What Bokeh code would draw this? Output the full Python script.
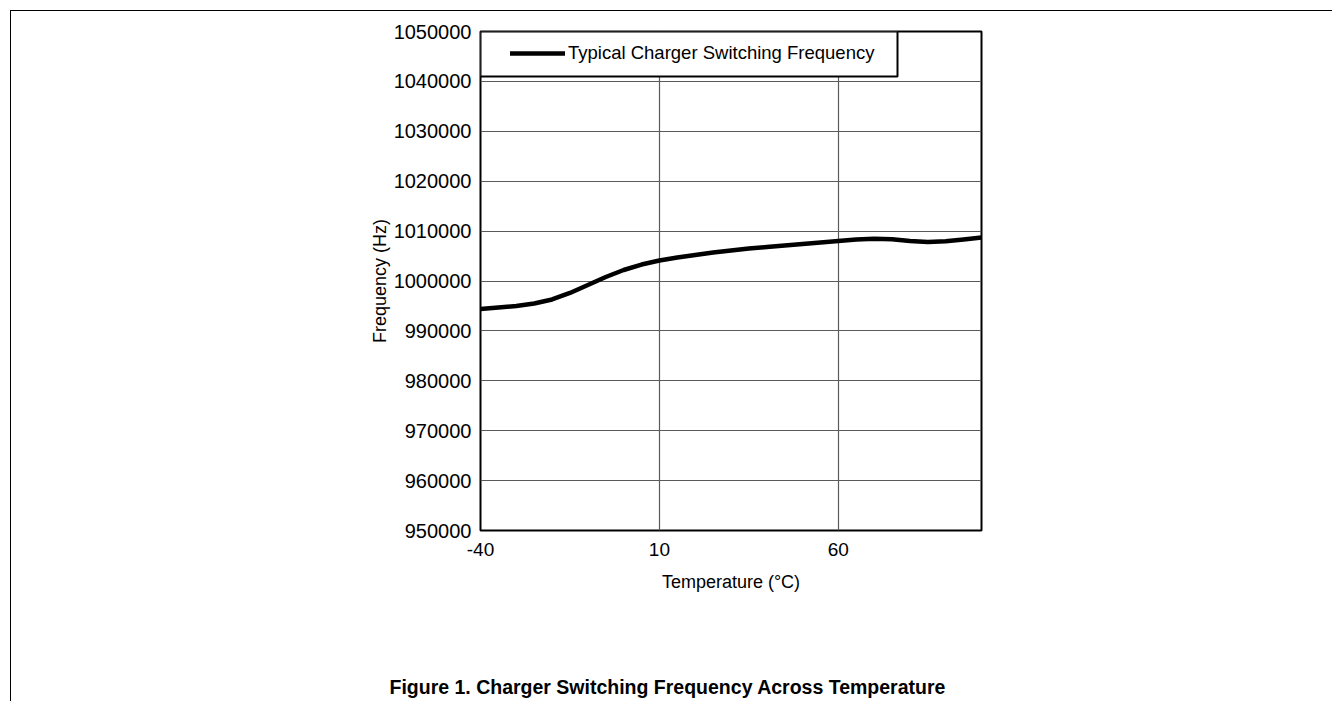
from bokeh.plotting import figure
from bokeh.layouts import column
from bokeh.models import (FixedTicker, PrintfTickFormatter, Legend, LegendItem,
                          BoxAnnotation, Label, Range1d)
from bokeh.embed import file_html
from bokeh.resources import INLINE

# ---- data ----
temperature_c = [-40, -35, -30, -25, -20, -15, -10, -5, 0, 5, 10, 15, 20, 25, 30,
                 35, 40, 45, 50, 55, 60, 65, 70, 75, 80, 85, 90, 95, 100]
frequency_hz = [994400, 994700, 995000, 995500, 996300, 997600, 999200, 1000800,
                1002200, 1003300, 1004100, 1004700, 1005200, 1005700, 1006100,
                1006500, 1006800, 1007100, 1007400, 1007700, 1008000, 1008300,
                1008450, 1008350, 1008000, 1007800, 1007950, 1008300, 1008700]
x_ticks = [-40, 10, 60]
y_ticks = list(range(950000, 1050001, 10000))
series_name = "Typical Charger Switching Frequency"
x_title = "Temperature (°C)"
y_title = "Frequency (Hz)"
caption = "Figure 1.  Charger Switching Frequency Across Temperature"

X0, X1 = -40, 100
Y0, Y1 = 950000, 1050000

# ---- layout constants (page pixels) ----
CANVAS_LEFT, CANVAS_TOP = 11, 11
W, H = 1321, 620
CAP_H = 70
FRAME_L, FRAME_T, FRAME_R, FRAME_B = 480, 31, 981, 530
FONT = "Liberation Sans"


def px_to_x(px):
    return X0 + (px - FRAME_L) * (X1 - X0) / (FRAME_R - FRAME_L)


def px_to_y(py):
    return Y0 + (FRAME_B - py) * (Y1 - Y0) / (FRAME_B - FRAME_T)


p = figure(width=W, height=H, output_backend="svg", toolbar_location=None,
           x_range=Range1d(X0, X1), y_range=Range1d(Y0, Y1),
           min_border_left=FRAME_L - CANVAS_LEFT,
           min_border_top=FRAME_T - CANVAS_TOP,
           min_border_right=CANVAS_LEFT + W - FRAME_R,
           min_border_bottom=CANVAS_TOP + H - FRAME_B)
p.frame_align = False

p.background_fill_color = "white"
p.border_fill_color = "white"
p.outline_line_color = "black"
p.outline_line_width = 2

for ax in (p.xaxis[0], p.yaxis[0]):
    ax.axis_line_color = None
    ax.major_tick_line_color = None
    ax.minor_tick_line_color = None
    ax.major_tick_out = 0
    ax.major_tick_in = 0
    ax.major_label_text_font = FONT
    ax.major_label_text_color = "black"
    ax.axis_label_text_font = FONT
    ax.axis_label_text_font_size = "18px"
    ax.axis_label_text_font_style = "normal"
    ax.axis_label_text_color = "black"

p.xaxis.major_label_text_font_size = "19px"
p.yaxis.major_label_text_font_size = "20px"
p.xaxis.ticker = FixedTicker(ticks=x_ticks)
p.yaxis.ticker = FixedTicker(ticks=y_ticks)
p.xaxis.formatter = PrintfTickFormatter(format="%d")
p.yaxis.formatter = PrintfTickFormatter(format="%d")
p.xaxis.axis_label = x_title
p.yaxis.axis_label = y_title
p.xaxis.major_label_standoff = 12
p.yaxis.major_label_standoff = 9
p.xaxis.axis_label_standoff = 13
p.yaxis.axis_label_standoff = 1

p.xgrid.ticker = FixedTicker(ticks=x_ticks)
p.ygrid.ticker = FixedTicker(ticks=y_ticks)
for g in (p.xgrid[0], p.ygrid[0]):
    g.grid_line_color = "#5a5a5a"
    g.grid_line_width = 1.2

r = p.line(temperature_c, frequency_hz, line_color="black", line_width=4.5,
           line_join="round", line_cap="round")

# legend frame
box = BoxAnnotation(left=X0, right=px_to_x(897), top=Y1, bottom=px_to_y(76),
                    fill_color="white", fill_alpha=1.0,
                    line_color="black", line_alpha=1.0, line_width=2)
p.add_layout(box)

legend = Legend(items=[LegendItem(label=series_name, renderers=[r])],
                location=(30, (FRAME_B - FRAME_T) - 33),
                padding=12, spacing=0, margin=0,
                glyph_width=55, glyph_height=20, label_height=20,
                label_standoff=3,
                label_text_font=FONT, label_text_font_size="18.5px",
                label_text_color="black",
                border_line_color=None, background_fill_alpha=0.0)
p.add_layout(legend)

# caption strip below the chart
cap_fig = figure(width=W, height=CAP_H, output_backend="svg", toolbar_location=None,
                 x_range=Range1d(0, W), y_range=Range1d(0, CAP_H),
                 x_axis_location=None, y_axis_location=None,
                 min_border_left=0, min_border_right=0,
                 min_border_top=0, min_border_bottom=0)
cap_fig.frame_align = False
cap_fig.outline_line_color = None
cap_fig.xgrid.visible = False
cap_fig.ygrid.visible = False
cap_fig.border_fill_color = "white"
cap_fig.background_fill_color = "white"
cap = Label(x=670 - CANVAS_LEFT, y=(CANVAS_TOP + H + CAP_H) - 686, text=caption,
            text_font=FONT, text_font_size="19.5px", text_font_style="bold",
            text_align="center", text_baseline="middle", text_color="black")
cap_fig.add_layout(cap)

layout = column(p, cap_fig, spacing=0)
layout.styles = {"border-top": "1px solid black", "border-left": "1px solid black",
                 "margin": "10px 0 0 10px"}

open("out.html", "w").write(file_html(layout, INLINE))
